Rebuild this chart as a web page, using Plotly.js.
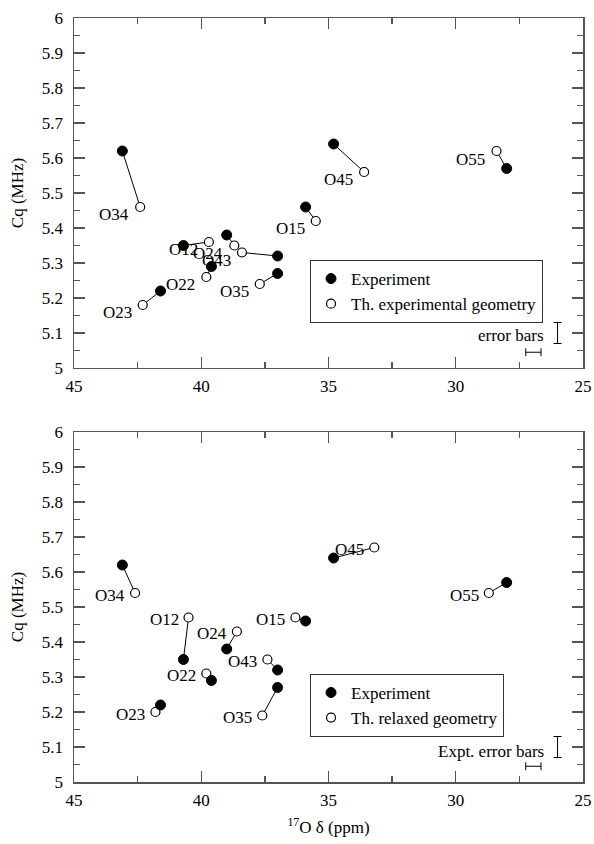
<!DOCTYPE html>
<html>
<head>
<meta charset="utf-8">
<script src="https://cdn.plot.ly/plotly-3.0.1.min.js"></script>
<style>html,body{margin:0;padding:0;background:#fff;}#chart{width:594px;height:844px;}</style>
</head>
<body>
<div id="chart"></div>
<script>
// ---- data ----
const sites = ['O12','O15','O22','O23','O24','O34','O35','O43','O45','O55'];
const expShift = [40.7, 35.9, 39.6, 41.6, 39.0, 43.1, 37.0, 37.0, 34.8, 28.0];
const expCq    = [5.35, 5.46, 5.29, 5.22, 5.38, 5.62, 5.27, 5.32, 5.64, 5.57];
const thExpGeoShift = [39.7, 35.5, 39.8, 42.3, 38.7, 42.4, 37.7, 38.4, 33.6, 28.4];
const thExpGeoCq    = [5.36, 5.42, 5.26, 5.18, 5.35, 5.46, 5.24, 5.33, 5.56, 5.62];
const thRelGeoShift = [40.5, 36.3, 39.8, 41.8, 38.6, 42.6, 37.6, 37.4, 33.2, 28.7];
const thRelGeoCq    = [5.47, 5.47, 5.31, 5.20, 5.43, 5.54, 5.19, 5.35, 5.67, 5.54];
// experimental error bars (shown as a key)
const errVx = [26.0],  errVy = [5.10],  errVsize = [0.03];
const errHx = [26.95], errHy = [5.045], errHsize = [0.3];
const xTicks = [45, 40, 35, 30, 25];

// ---- styles ----
const FONT = 'Liberation Serif';
const AX = '#555';

function pairLines(x1, y1, x2, y2) {
  const x = [], y = [];
  for (let i = 0; i < x1.length; i++) { x.push(x1[i], x2[i], null); y.push(y1[i], y2[i], null); }
  return {x, y};
}

function panel(thX, thY, thName, xa, ya, leg) {
  const pl = pairLines(expShift, expCq, thX, thY);
  return [
    {x: pl.x, y: pl.y, mode: 'lines', line: {color: 'black', width: 1}, showlegend: false,
     xaxis: xa, yaxis: ya, hoverinfo: 'skip'},
    {x: thX, y: thY, mode: 'markers', name: thName, legend: leg, legendrank: 2,
     marker: {symbol: 'circle', size: 9, color: 'white', line: {color: 'black', width: 1.2}},
     xaxis: xa, yaxis: ya},
    {x: expShift, y: expCq, mode: 'markers', name: 'Experiment', legend: leg, legendrank: 1,
     marker: {symbol: 'circle', size: 10, color: 'black', line: {color: 'black', width: 1}},
     xaxis: xa, yaxis: ya},
    {x: errVx, y: errVy, mode: 'markers', marker: {size: 1, opacity: 0}, showlegend: false,
     error_y: {type: 'data', array: errVsize, color: 'black', thickness: 1, width: 4},
     xaxis: xa, yaxis: ya, hoverinfo: 'skip'},
    {x: errHx, y: errHy, mode: 'markers', marker: {size: 1, opacity: 0}, showlegend: false,
     error_x: {type: 'data', array: errHsize, color: 'black', thickness: 1, width: 4},
     xaxis: xa, yaxis: ya, hoverinfo: 'skip'}
  ];
}

const data = [].concat(
  panel(thExpGeoShift, thExpGeoCq, 'Th. experimental geometry', 'x', 'y', 'legend'),
  panel(thRelGeoShift, thRelGeoCq, 'Th. relaxed geometry', 'x2', 'y2', 'legend2')
);

const annotations = [];
function labels(thX, thY, xref, yref, dx, dy) {
  for (let i = 0; i < sites.length; i++) {
    annotations.push({x: thX[i], y: thY[i], xref, yref, text: sites[i], showarrow: false,
      xanchor: 'right', yanchor: 'middle', xshift: dx, yshift: dy,
      font: {family: FONT, size: 17, color: 'black'}});
  }
}
labels(thExpGeoShift, thExpGeoCq, 'x', 'y', -9, -8);
labels(thRelGeoShift, thRelGeoCq, 'x2', 'y2', -8, -2);
annotations.push({x: errVx[0], y: errVy[0], xref: 'x', yref: 'y', text: 'error bars', showarrow: false,
  xanchor: 'right', yanchor: 'middle', xshift: -12, yshift: -3, font: {family: FONT, size: 17, color: 'black'}});
annotations.push({x: errVx[0], y: errVy[0], xref: 'x2', yref: 'y2', text: 'Expt. error bars', showarrow: false,
  xanchor: 'right', yanchor: 'middle', xshift: -12, yshift: -4, font: {family: FONT, size: 17, color: 'black'}});

function xAxis(anchor, withTitle) {
  const a = {anchor, range: [45, 25], tickvals: xTicks, ticktext: xTicks.map(String),
    ticks: 'inside', ticklen: 11, tickwidth: 1.3, tickcolor: AX,
    minor: {dtick: 2.5, tick0: 25, ticks: 'inside', ticklen: 6, tickwidth: 1.3, tickcolor: AX},
    showline: true, linecolor: AX, linewidth: 1.5, mirror: 'ticks', showgrid: false, zeroline: false,
    tickfont: {family: FONT, size: 17, color: 'black'}, ticklabelstandoff: 2};
  if (withTitle) a.title = {text: '<sup>17</sup>O \u03b4 (ppm)', font: {family: FONT, size: 17, color: 'black'}, standoff: 12};
  return a;
}
function yAxis(anchor, domain) {
  return {anchor, domain, range: [5, 6], tick0: 5, dtick: 0.1,
    ticks: 'inside', ticklen: 11, tickwidth: 1.3, tickcolor: AX,
    minor: {dtick: 0.05, tick0: 5, ticks: 'inside', ticklen: 6, tickwidth: 1.3, tickcolor: AX},
    showline: true, linecolor: AX, linewidth: 1.5, mirror: 'ticks', showgrid: false, zeroline: false,
    tickfont: {family: FONT, size: 17, color: 'black'}, ticklabelstandoff: 6,
    title: {text: 'Cq (MHz)', font: {family: FONT, size: 17, color: 'black'}, standoff: 14}};
}
const legStyle = (y) => ({x: 0.4637, y, xanchor: 'left', yanchor: 'top', bgcolor: 'white',
  bordercolor: '#333', borderwidth: 1, font: {family: FONT, size: 17, color: 'black'},
  tracegroupgap: 0, itemwidth: 30});

const layout = {
  width: 594, height: 844,
  margin: {l: 74, r: 11, t: 18, b: 62},
  paper_bgcolor: 'white', plot_bgcolor: 'white',
  font: {family: FONT, size: 17, color: 'black'},
  xaxis: Object.assign(xAxis('y', false), {domain: [0, 1]}),
  yaxis: yAxis('x', [0.5419, 1]),
  xaxis2: Object.assign(xAxis('y2', true), {domain: [0, 1]}),
  yaxis2: yAxis('x2', [0, 0.4581]),
  legend: legStyle(0.6832),
  legend2: legStyle(0.1414),
  annotations,
  showlegend: true
};

Plotly.newPlot('chart', data, layout, {displayModeBar: false, staticPlot: true});
</script>
</body>
</html>
